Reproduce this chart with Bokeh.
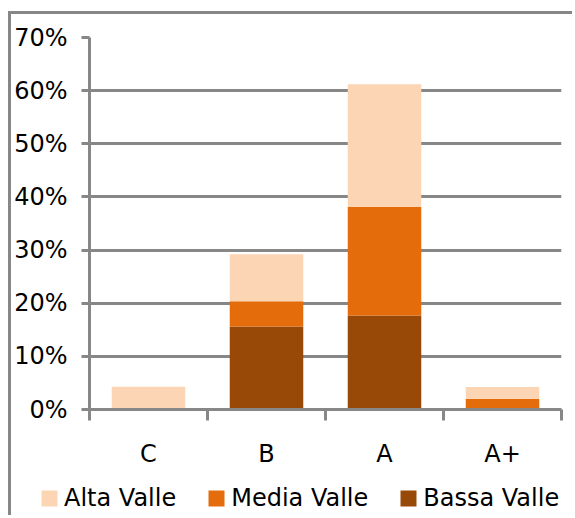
import numpy as np
from bokeh.plotting import figure
from bokeh.models import (ColumnDataSource, FixedTicker, NumeralTickFormatter,
                          Legend, LegendItem, Range1d)
from bokeh.embed import file_html
from bokeh.resources import INLINE

# Share of each class per valley zone
classes = ["C", "B", "A", "A+"]
bassa_valle = [0.0, 0.156, 0.177, 0.0]
media_valle = [0.0, 0.0475, 0.204, 0.020]
alta_valle = [0.043, 0.0885, 0.231, 0.0225]

series_names = ["Bassa Valle", "Media Valle", "Alta Valle"]
series_colors = ["#984807", "#E46C0A", "#FCD5B5"]
legend_order = ["Alta Valle", "Media Valle", "Bassa Valle"]
y_ticks = [0.0, 0.1, 0.2, 0.3, 0.4, 0.5, 0.6, 0.7]

FONT = "DejaVu Sans"
FONT_SIZE = "24px"
GRAY = "#878787"

centers = [i + 0.5 for i in range(len(classes))]
source = ColumnDataSource(dict(x=centers, **{
    "Bassa Valle": bassa_valle,
    "Media Valle": media_valle,
    "Alta Valle": alta_valle,
}))

p = figure(width=564, height=456, output_backend="svg", toolbar_location=None,
           x_range=Range1d(0, len(classes)), y_range=Range1d(0, 0.7),
           min_border_left=78, min_border_right=14, min_border_top=23,
           min_border_bottom=59)
# chart box: grey rule on its top and left edges
p.styles = {"margin-left": "8px", "margin-top": "11px",
            "border-top": f"3px solid {GRAY}", "border-left": f"3px solid {GRAY}"}
p.outline_line_color = None
p.background_fill_color = "white"
p.border_fill_color = "white"

renderers = p.vbar_stack(series_names, x="x", width=0.623, color=series_colors,
                         line_color=None, source=source)

# y axis: percentages with outward ticks
p.yaxis.ticker = FixedTicker(ticks=y_ticks, minor_ticks=[])
p.yaxis.formatter = NumeralTickFormatter(format="0%")
p.yaxis.axis_line_color = GRAY
p.yaxis.axis_line_width = 3
p.yaxis.major_tick_line_color = GRAY
p.yaxis.major_tick_line_width = 3
p.yaxis.major_tick_out = 8
p.yaxis.major_tick_in = 0
p.yaxis.minor_tick_line_color = None
p.yaxis.major_label_standoff = 14
p.yaxis.major_label_text_font = FONT
p.yaxis.major_label_text_font_size = FONT_SIZE
p.yaxis.major_label_text_color = "black"

# x axis: labels at category centres, ticks at the boundaries
p.xaxis.ticker = FixedTicker(ticks=centers, minor_ticks=list(range(len(classes) + 1)))
p.xaxis.major_label_overrides = {c: name for c, name in zip(centers, classes)}
p.xaxis.axis_line_color = GRAY
p.xaxis.axis_line_width = 3
p.xaxis.major_tick_line_color = None
p.xaxis.major_tick_out = 0
p.xaxis.major_tick_in = 0
p.xaxis.minor_tick_line_color = GRAY
p.xaxis.minor_tick_line_width = 3
p.xaxis.minor_tick_out = 11
p.xaxis.minor_tick_in = 0
p.xaxis.major_label_standoff = 19
p.xaxis.major_label_text_font = FONT
p.xaxis.major_label_text_font_size = FONT_SIZE
p.xaxis.major_label_text_color = "black"

p.xgrid.grid_line_color = None
p.ygrid.ticker = FixedTicker(ticks=y_ticks)
p.ygrid.grid_line_color = GRAY
p.ygrid.grid_line_width = 3

# legend strip under the chart; its swatch renderers hold no visible bars
lg = figure(width=564, height=48, output_backend="svg", toolbar_location=None,
            x_range=Range1d(0, 1), y_range=Range1d(0, 1),
            x_axis_type=None, y_axis_type=None, min_border=0)
lg.styles = {"margin-left": "8px", "border-left": f"3px solid {GRAY}"}
lg.outline_line_color = None
lg.xgrid.visible = False
lg.ygrid.visible = False
swatch = {n: lg.vbar(x=np.array([np.nan]), top=np.array([np.nan]), width=0.1,
                     color=c, line_color=None)
          for n, c in zip(series_names, series_colors)}
legend = Legend(items=[LegendItem(label=n, renderers=[swatch[n]]) for n in legend_order],
                orientation="horizontal", location=(28, 3),
                glyph_width=20, glyph_height=20, label_standoff=5, spacing=30,
                padding=0, margin=0, border_line_color=None,
                background_fill_alpha=0,
                label_text_font=FONT, label_text_font_size=FONT_SIZE,
                label_text_color="black")
lg.add_layout(legend, "center")

open("out.html", "w").write(file_html([p, lg], INLINE))
